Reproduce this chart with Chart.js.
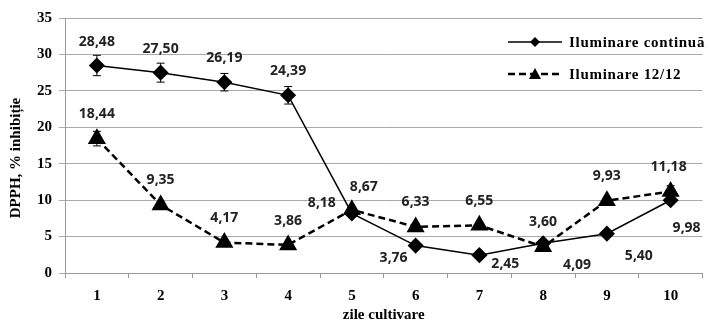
<!DOCTYPE html>
<html>
<head>
<meta charset="utf-8">
<script src="https://cdn.jsdelivr.net/npm/chart.js@4.4.1/dist/chart.umd.min.js"></script>
<style>
  html, body { margin: 0; padding: 0; background: #fff; }
  #wrap { width: 713px; height: 328px; position: relative; }
</style>
</head>
<body>
<div id="wrap"><canvas id="chart" width="713" height="328"></canvas></div>
<script>
// data
const days = ["1", "2", "3", "4", "5", "6", "7", "8", "9", "10"];
const continua = [28.48, 27.50, 26.19, 24.39, 8.18, 3.76, 2.45, 4.09, 5.40, 9.98];
const continuaErr = [1.4, 1.3, 1.2, 1.2, 0.3, 0.3, 0.2, 0.3, 0.3, 0.5];
const ilum1212 = [18.44, 9.35, 4.17, 3.86, 8.67, 6.33, 6.55, 3.60, 9.93, 11.18];
const ilum1212Err = [1.0, 0.4, 0.4, 0.3, 0.4, 0.4, 0.4, 0.3, 0.4, 0.8];
const yTicks = [0, 5, 10, 15, 20, 25, 30, 35];
const seriesNames = ["Iluminare continuă", "Iluminare 12/12"];
const yTitle = "DPPH, % inhibiție";

const serif = "'Liberation Serif', 'Times New Roman', serif";
const sans = "'Noto Sans', 'Open Sans', sans-serif";

// label offsets (dx, dy) from each point
const labelOffsets = [
  [[0,-23],[0,-24],[0,-24],[0,-24],[-30,-10],[-22,12],[26,9],[34,22],[32,22],[16,28]],
  [[0,-25],[0,-25],[0,-25],[0,-24],[12,-23],[0,-25],[0,-24],[0,-25],[0,-25],[-2,-25]]
];

// error bars
const errorBars = {
  id: "errorBars",
  beforeDatasetsDraw(chart) {
    const ctx = chart.ctx;
    const y = chart.scales.y;
    const errs = [continuaErr, ilum1212Err];
    ctx.save();
    ctx.strokeStyle = "#000";
    ctx.lineWidth = 1;
    chart.data.datasets.forEach((ds, i) => {
      chart.getDatasetMeta(i).data.forEach((pt, j) => {
        const e = errs[i][j];
        const top = y.getPixelForValue(ds.data[j] + e);
        const bot = y.getPixelForValue(ds.data[j] - e);
        ctx.beginPath();
        ctx.moveTo(pt.x, top); ctx.lineTo(pt.x, bot);
        ctx.moveTo(pt.x - 4, top); ctx.lineTo(pt.x + 4, top);
        ctx.moveTo(pt.x - 4, bot); ctx.lineTo(pt.x + 4, bot);
        ctx.stroke();
      });
    });
    ctx.restore();
  }
};

// value labels
const valueLabels = {
  id: "valueLabels",
  afterDatasetsDraw(chart) {
    const ctx = chart.ctx;
    ctx.save();
    ctx.font = "bold 14px " + sans;
    ctx.fillStyle = "#222";
    ctx.textAlign = "center";
    ctx.textBaseline = "middle";
    chart.data.datasets.forEach((ds, i) => {
      chart.getDatasetMeta(i).data.forEach((pt, j) => {
        const off = labelOffsets[i][j];
        ctx.fillText(ds.data[j].toFixed(2).replace(".", ","), pt.x + off[0], pt.y + off[1]);
      });
    });
    ctx.restore();
  }
};

// legend + y title
const customLegend = {
  id: "customLegend",
  afterDraw(chart) {
    const ctx = chart.ctx;
    ctx.save();
    const rows = [
      { y: 42, dash: [], width: 1.5, shape: "diamond" },
      { y: 74, dash: [7, 4], width: 2.5, shape: "triangle" }
    ];
    rows.forEach((r, i) => {
      ctx.strokeStyle = "#000";
      ctx.lineWidth = r.width;
      ctx.setLineDash(r.dash);
      ctx.beginPath();
      ctx.moveTo(508, r.y); ctx.lineTo(562, r.y);
      ctx.stroke();
      ctx.setLineDash([]);
      ctx.fillStyle = "#000";
      ctx.beginPath();
      if (r.shape === "diamond") {
        ctx.moveTo(535, r.y - 5); ctx.lineTo(540, r.y); ctx.lineTo(535, r.y + 5); ctx.lineTo(530, r.y);
      } else {
        ctx.moveTo(535, r.y - 6); ctx.lineTo(541, r.y + 5); ctx.lineTo(529, r.y + 5);
      }
      ctx.closePath();
      ctx.fill();
      ctx.font = "bold 15px " + serif;
      ctx.letterSpacing = "0.7px";
      ctx.textAlign = "left";
      ctx.textBaseline = "middle";
      ctx.fillText(seriesNames[i], 569, r.y + 1);
    });
    ctx.letterSpacing = "0px";
    ctx.translate(16, 158);
    ctx.rotate(-Math.PI / 2);
    ctx.font = "bold 15px " + serif;
    ctx.textAlign = "center";
    ctx.textBaseline = "middle";
    ctx.fillText(yTitle, 0, 0);
    ctx.restore();
  }
};

const ctx = document.getElementById("chart").getContext("2d");
new Chart(ctx, {
  type: "line",
  data: {
    labels: days,
    datasets: [
      {
        label: seriesNames[0],
        data: continua,
        borderColor: "#000",
        backgroundColor: "#000",
        borderWidth: 1.5,
        pointStyle: "rectRot",
        pointRadius: 7,
        pointHoverRadius: 7,
        tension: 0
      },
      {
        label: seriesNames[1],
        data: ilum1212,
        borderColor: "#000",
        backgroundColor: "#000",
        borderWidth: 2.5,
        borderDash: [7, 4],
        pointStyle: "triangle",
        pointRadius: 8,
        pointHoverRadius: 8,
        tension: 0
      }
    ]
  },
  options: {
    responsive: false,
    animation: false,
    events: [],
    layout: { padding: { left: 0, right: 0, top: 18, bottom: 0 } },
    plugins: {
      legend: { display: false },
      tooltip: { enabled: false }
    },
    scales: {
      x: {
        offset: true,
        grid: { offset: true, drawOnChartArea: false, color: "#999", tickLength: 5 },
        border: { color: "#999" },
        ticks: { color: "#000", font: { family: serif, size: 15, weight: "bold" }, padding: 9, maxRotation: 0 },
        title: { display: true, text: "zile cultivare", color: "#000", font: { family: serif, size: 15, weight: "bold" }, padding: { top: 0, bottom: 4 } },
        afterFit(scale) { scale.height = 55; }
      },
      y: {
        min: 0,
        max: 35,
        afterBuildTicks(scale) { scale.ticks = yTicks.map(v => ({ value: v })); },
        grid: { color: "#aaa", tickLength: 6 },
        border: { color: "#999" },
        ticks: { color: "#000", font: { family: serif, size: 15, weight: "bold" }, padding: 7 },
        afterFit(scale) { scale.width = 65; }
      }
    }
  },
  plugins: [errorBars, valueLabels, customLegend]
});
</script>
</body>
</html>
